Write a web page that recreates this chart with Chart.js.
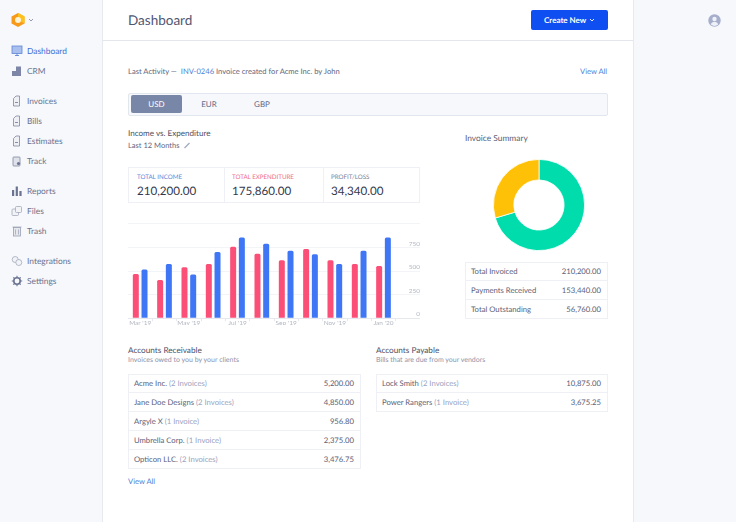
<!DOCTYPE html>
<html lang="en">
<head>
<meta charset="UTF-8">
<title>Dashboard</title>
<script src="https://cdn.jsdelivr.net/npm/chart.js"></script>
<style>
    html, body { margin: 0; padding: 0; background: #fff; }
    body { width: 736px; height: 522px; position: relative; overflow: hidden; font-family: 'Lato', sans-serif; color: #50566e; text-rendering: geometricPrecision; }
    .abs { position: absolute; white-space: nowrap; line-height: 1; }
    .panel { position: absolute; top: 0; height: 522px; background: #f6f8fb; }
    .box { position: absolute; border: 1px solid #eef0f5; box-sizing: border-box; background: #fff; }
    .row { position: absolute; left: 0; right: 0; height: 19px; border-bottom: 1px solid #eef0f5; box-sizing: border-box; font-size: 7.7px; line-height: 18px; color: #5a6078; }
    .row:last-child { border-bottom: 0; }
    .row b { font-weight: 400; color: #9aa2c0; }
    .row span { position: absolute; left: 5px; }
    .row i { position: absolute; right: 6px; font-style: normal; }
    .link { color: #4f7fd8; }
    .nav { font-size: 8.4px; color: #6b7390; left: 27px; }
    svg { position: absolute; }
</style>
</head>
<body>
<div class="panel" style="left:0;width:102px;border-right:1px solid #e6e9ef"></div>
<div class="panel" style="left:633px;width:103px;border-left:1px solid #e6e9ef"></div>
<div style="position:absolute;left:103px;width:530px;top:40px;border-top:1px solid #e3e6ec"></div>

<svg style="left:10px;top:12px" width="26" height="16" viewBox="0 0 26 16">
    <polygon points="8,1 14.5,4.5 14.5,11.5 8,15 1.5,11.5 1.5,4.5" fill="#f79a1c"/>
    <polygon points="8,1 14.5,4.5 14.5,11.5 8,8" fill="#fdc21a"/>
    <circle cx="8" cy="8" r="3" fill="#fff3d6"/>
    <path d="M19 7l2 2 2-2" fill="none" stroke="#7c839c" stroke-width="0.8"/>
</svg>
<div id="sidebar"></div>

<div class="abs" style="left:128px;top:13.5px;font-size:13.5px;color:#4f5672">Dashboard</div>
<div class="abs" style="left:531px;top:10px;width:77px;height:20px;background:#0f4ff2;border-radius:2px"></div>
<div class="abs" style="left:544px;top:16px;font-size:8px;font-weight:700;color:#fff">Create New</div>
<svg style="left:589px;top:18px" width="6" height="5" viewBox="0 0 6 5"><path d="M1 1l2 2 2-2" fill="none" stroke="#fff" stroke-width="0.9"/></svg>
<svg style="left:708px;top:14px" width="13" height="13" viewBox="0 0 13 13">
    <circle cx="6.5" cy="6.5" r="6.2" fill="#a6aecb"/>
    <circle cx="6.5" cy="5" r="2.2" fill="#eef1f7"/>
    <path d="M2.8 10.5c.6-2 2-2.8 3.7-2.8s3.1.8 3.7 2.8a6 6 0 0 1-7.4 0z" fill="#eef1f7"/>
</svg>

<div class="abs" style="left:128px;top:68px;font-size:7.6px;color:#5f667e">Last Activity &mdash;&nbsp; <span class="link">INV-0246</span> Invoice created for Acme Inc. by John</div>
<div class="abs link" style="left:580px;top:68px;font-size:7.6px">View All</div>

<div class="abs" style="left:128px;top:93px;width:480px;height:23px;box-sizing:border-box;background:#f6f8fb;border:1px solid #e2e6ee;border-radius:2px"></div>
<div class="abs" style="left:131px;top:95px;width:51px;height:18px;background:#7886a8;border-radius:2px;color:#fff;font-size:8px;line-height:18px;text-align:center">USD</div>
<div class="abs" style="left:189px;top:95px;width:40px;font-size:8px;line-height:18px;text-align:center;color:#646b85">EUR</div>
<div class="abs" style="left:242px;top:95px;width:40px;font-size:8px;line-height:18px;text-align:center;color:#646b85">GBP</div>

<div class="abs" style="left:128px;top:129px;font-size:8.1px;color:#4a5068">Income vs. Expenditure</div>
<div class="abs" style="left:128px;top:142.3px;font-size:7.5px;color:#5f667e">Last 12 Months</div>
<svg style="left:183px;top:141px" width="9" height="9" viewBox="0 0 9 9"><path d="M1.5 7l5-5" stroke="#a3a9ba" stroke-width="1.2"/></svg>

<div class="box" style="left:128px;top:167px;width:292px;height:36px"></div>
<div style="position:absolute;left:224px;top:167px;height:36px;border-left:1px solid #eef0f5"></div>
<div style="position:absolute;left:323px;top:167px;height:36px;border-left:1px solid #eef0f5"></div>
<div class="abs" style="left:137px;top:174.6px;font-size:6.2px;color:#5f86d8">TOTAL INCOME</div>
<div class="abs" style="left:232px;top:174.6px;font-size:6.2px;color:#ee6d8c">TOTAL EXPENDITURE</div>
<div class="abs" style="left:331px;top:174.6px;font-size:6.2px;color:#7a8096">PROFIT/LOSS</div>
<div class="abs" style="left:137px;top:186.2px;font-size:11.6px;color:#33384c">210,200.00</div>
<div class="abs" style="left:232px;top:186.2px;font-size:11.6px;color:#33384c">175,860.00</div>
<div class="abs" style="left:331px;top:186.2px;font-size:11.6px;color:#33384c">34,340.00</div>

<div style="position:absolute;left:128px;top:220px;width:292px;height:105px"><canvas id="barChart"></canvas></div>

<div class="abs" style="left:465px;top:133.5px;font-size:8.4px;color:#5a6078">Invoice Summary</div>
<div style="position:absolute;left:489px;top:155px;width:100px;height:100px"><canvas id="donutChart"></canvas></div>
<div class="box" id="summaryTable" style="left:465px;top:262px;width:143px;height:57px"></div>

<div class="abs" style="left:128px;top:345.5px;font-size:8.2px;color:#4a5068">Accounts Receivable</div>
<div class="abs" style="left:128px;top:356.5px;font-size:7px;color:#8d94ab">Invoices owed to you by your clients</div>
<div class="box" id="receivableTable" style="left:128px;top:374px;width:233px;height:95px"></div>
<div class="abs link" style="left:128px;top:477.5px;font-size:7.6px">View All</div>

<div class="abs" style="left:376px;top:345.5px;font-size:8.2px;color:#4a5068">Accounts Payable</div>
<div class="abs" style="left:376px;top:356.5px;font-size:7px;color:#8d94ab">Bills that are due from your vendors</div>
<div class="box" id="payableTable" style="left:376px;top:374px;width:232px;height:38px"></div>

<script>
    // values
    const monthLabels = ["Mar '19", "", "May '19", "", "Jul '19", "", "Sep '19", "", "Nov '19", "", "Jan '20", ""];
    const expenditureValues = [470, 404, 540, 575, 758, 684, 614, 733, 614, 575, 554, null];
    const incomeValues = [516, 575, 463, 702, 856, 789, 716, 677, 575, 716, 856, null];
    const yTickValues = [0, 250, 500, 750];

    const donutLabels = ['Payments Received', 'Total Outstanding'];
    const donutValues = [70.4, 29.6];

    const navItems = [['Dashboard', 51, 'monitor'], ['CRM', 71, 'crm'], ['Invoices', 101, 'doc'], ['Bills', 121, 'doc'], ['Estimates', 141, 'doc'], ['Track', 161, 'track'],
        ['Reports', 191, 'bars'], ['Files', 211, 'files'], ['Trash', 231, 'trash'], ['Integrations', 261, 'links'], ['Settings', 281, 'gear']];
    const summaryRows = [['Total Invoiced', '', '210,200.00'], ['Payments Received', '', '153,440.00'], ['Total Outstanding', '', '56,760.00']];
    const receivableRows = [['Acme Inc.', '(2 Invoices)', '5,200.00'], ['Jane Doe Designs', '(2 Invoices)', '4,850.00'],
        ['Argyle X', '(1 Invoice)', '956.80'], ['Umbrella Corp.', '(1 Invoice)', '2,375.00'], ['Opticon LLC.', '(2 Invoices)', '3,476.75']];
    const payableRows = [['Lock Smith', '(2 Invoices)', '10,875.00'], ['Power Rangers', '(1 Invoice)', '3,675.25']];

    const docIcon = '<path d="M2.5 3.5L5 1h3.5v10h-6z" fill="#eef0f5" stroke="#8087a0" stroke-width="0.8"/><path d="M4 7.5h3" stroke="#6b7390" stroke-width="0.8"/>';
    const iconShapes = {
        monitor: '<rect x="1" y="1" width="10" height="7.5" fill="#a9c0ee" stroke="#5f86d8" stroke-width="0.8"/><path d="M4 10.5h4M6 8.5v2" stroke="#5f86d8" stroke-width="0.9"/>',
        crm: '<path d="M1 6h4V1.5h5V11H1z" fill="#7d86a6"/>',
        doc: docIcon,
        track: '<rect x="2" y="2" width="7" height="9" rx="0.8" fill="#dfe2ea" stroke="#8087a0" stroke-width="0.8"/><circle cx="7.5" cy="8.5" r="1.6" fill="#6b7390"/>',
        bars: '<path d="M1 5h2.2v6H1zM4.7 1.5h2.2V11H4.7zM8.4 6h2.2v5H8.4z" fill="#6b7390"/>',
        files: '<rect x="1" y="4" width="6.5" height="6.5" rx="1" fill="#f1f3f7" stroke="#a3a9ba" stroke-width="0.8"/><rect x="4.5" y="1.5" width="6" height="6" rx="1" fill="#f1f3f7" stroke="#a3a9ba" stroke-width="0.8"/>',
        trash: '<rect x="2.5" y="2.5" width="7" height="8.5" fill="#e6e8ee" stroke="#9aa0b3" stroke-width="0.8"/><path d="M1.5 2h9M4.5 4.5v5M7.5 4.5v5" stroke="#9aa0b3" stroke-width="0.7"/>',
        links: '<circle cx="4.2" cy="4.5" r="3" fill="#f1f3f7" stroke="#a3a9ba" stroke-width="0.8"/><circle cx="7.8" cy="7.5" r="3" fill="#f1f3f7" stroke="#a3a9ba" stroke-width="0.8"/>',
        gear: '<circle cx="6" cy="6" r="3.2" fill="none" stroke="#6b7390" stroke-width="1.6"/><path d="M6 .8v2M6 9.2v2M.8 6h2M9.2 6h2M2.3 2.3l1.4 1.4M8.3 8.3l1.4 1.4M9.7 2.3L8.3 3.7M3.7 8.3L2.3 9.7" stroke="#6b7390" stroke-width="1.1"/>'
    };

    function fillTable(id, rows) {
        const box = document.getElementById(id);
        rows.forEach((r, i) => {
            const row = document.createElement('div');
            row.className = 'row';
            row.style.top = (i * 19 - 1) + 'px';
            row.innerHTML = '<span>' + r[0] + ' <b>' + r[1] + '</b></span><i>' + r[2] + '</i>';
            box.appendChild(row);
        });
    }
    fillTable('summaryTable', summaryRows);
    fillTable('receivableTable', receivableRows);
    fillTable('payableTable', payableRows);

    // sidebar labels and icons
    const sidebar = document.getElementById('sidebar');
    navItems.forEach((item, i) => {
        const label = document.createElement('div');
        label.className = 'abs nav';
        label.textContent = item[0];
        label.style.top = (item[1] - 4.2) + 'px';
        if (i === 0) label.style.color = '#3f6fd6';
        sidebar.appendChild(label);
        const icon = document.createElementNS('http://www.w3.org/2000/svg', 'svg');
        icon.setAttribute('width', 12);
        icon.setAttribute('height', 12);
        icon.setAttribute('viewBox', '0 0 12 12');
        icon.style.left = '11px';
        icon.style.top = (item[1] - 6) + 'px';
        icon.innerHTML = iconShapes[item[2]];
        sidebar.appendChild(icon);
    });

    new Chart(document.getElementById('barChart'), {
        type: 'bar',
        data: {
            labels: monthLabels,
            datasets: [
                { label: 'Expenditure', data: expenditureValues, backgroundColor: '#fb4f78', borderRadius: 1.5, borderSkipped: 'bottom' },
                { label: 'Income', data: incomeValues, backgroundColor: '#3f76f5', borderRadius: 1.5, borderSkipped: 'bottom' }
            ]
        },
        options: {
            responsive: true,
            maintainAspectRatio: false,
            animation: false,
            categoryPercentage: 0.715,
            barPercentage: 0.69,
            layout: { padding: 0 },
            plugins: { legend: { display: false }, tooltip: { enabled: false } },
            scales: {
                x: {
                    grid: { drawOnChartArea: false, color: '#e6e8ee', tickLength: 3, offset: true },
                    border: { color: '#e6e8ee' },
                    ticks: { autoSkip: false, maxRotation: 0, padding: -2, color: '#b3b7c2', font: { size: 6.5, family: 'Lato' } }
                },
                y: {
                    position: 'right',
                    min: 0,
                    max: 1000,
                    afterBuildTicks: axis => {
                        axis.ticks = yTickValues.concat([1000]).map(v => ({ value: v }));
                    },
                    grid: { color: '#f3f4f7', drawTicks: false },
                    border: { display: false },
                    ticks: {
                        mirror: true,
                        labelOffset: -4,
                        padding: 0,
                        color: '#b3b7c2',
                        font: { size: 6.5, family: 'Lato' },
                        callback: v => (yTickValues.includes(v) ? v : '')
                    }
                }
            }
        }
    });

    new Chart(document.getElementById('donutChart'), {
        type: 'doughnut',
        data: {
            labels: donutLabels,
            datasets: [{ data: donutValues, backgroundColor: ['#00dcab', '#ffc107'], borderColor: '#fff', borderWidth: 0.8 }]
        },
        options: {
            responsive: true,
            maintainAspectRatio: false,
            animation: false,
            cutout: '55%',
            layout: { padding: 4 },
            plugins: { legend: { display: false }, tooltip: { enabled: false } }
        }
    });
</script>
</body>
</html>
